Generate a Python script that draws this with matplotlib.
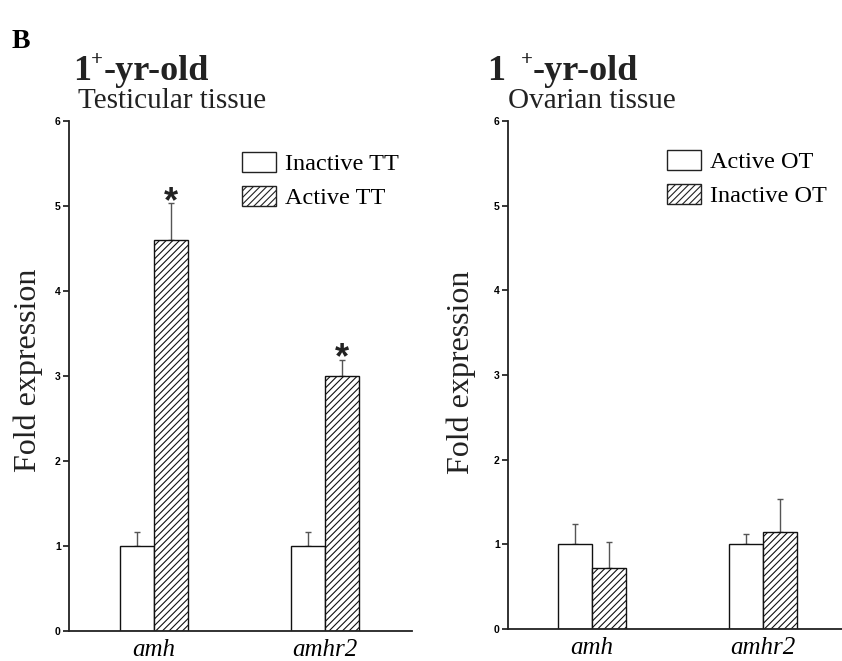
import matplotlib
matplotlib.use("Agg")
import matplotlib.pyplot as plt
from matplotlib.patches import Patch
import numpy as np

plt.rcParams['hatch.linewidth'] = 0.8

genes = ["amh", "amhr2"]
# Left panel: testicular tissue
tt_labels = ["Inactive TT", "Active TT"]
tt_inactive = [1.0, 1.0]
tt_inactive_err = [0.17, 0.17]
tt_active = [4.6, 3.0]
tt_active_err = [0.43, 0.19]
tt_signif = [True, True]
# Right panel: ovarian tissue
ot_labels = ["Active OT", "Inactive OT"]
ot_active = [1.0, 1.0]
ot_active_err = [0.24, 0.12]
ot_inactive = [0.72, 1.14]
ot_inactive_err = [0.31, 0.40]
ot_signif = [False, False]
yticks = [0, 1, 2, 3, 4, 5, 6]

W, H = 842, 661
fig = plt.figure(figsize=(W / 100, H / 100), dpi=100)

def fx(px):
    return px / W

def fy(py):
    return 1 - py / H

serif = "Liberation Serif"
sans = "Liberation Sans"

def make_panel(rect, xlim, s1, e1, s2, e2, labels, signif, leg_anchor, lab_xy):
    ax = fig.add_axes(rect)
    x = np.arange(len(genes))
    w = 0.2
    ax.bar(x - w / 2, s1, width=w, color="white", edgecolor="#111111", linewidth=1.0, zorder=2)
    ax.bar(x + w / 2, s2, width=w, color="white", edgecolor="#111111", linewidth=1.0,
           hatch="/////", zorder=2)
    ax.errorbar(x - w / 2, s1, yerr=[np.zeros(len(e1)), e1], fmt="none", ecolor="#555555",
                elinewidth=1.0, capsize=2.5, capthick=1.0, zorder=1)
    ax.errorbar(x + w / 2, s2, yerr=[np.zeros(len(e2)), e2], fmt="none", ecolor="#555555",
                elinewidth=1.0, capsize=2.5, capthick=1.0, zorder=1)
    for i, sg in enumerate(signif):
        if sg:
            ax.annotate("*", xy=(x[i] + w / 2, s2[i] + e2[i]), xytext=(0, -6),
                        textcoords="offset points", ha="center", va="baseline",
                        fontsize=26, fontweight="bold", family=sans, color="#222222")
    ax.set_xlim(*xlim)
    ax.set_ylim(0, 6)
    ax.set_yticks(yticks)
    ax.set_yticklabels([str(t) for t in yticks], fontsize=7.5, fontweight="bold", family=sans)
    ax.set_xticks(x)
    ax.set_xticklabels(genes, fontsize=18, style="italic", family=serif)
    ax.tick_params(axis="x", length=0, pad=6)
    ax.tick_params(axis="y", length=4, width=1.1, direction="out", pad=2)
    for s in ["top", "right"]:
        ax.spines[s].set_visible(False)
    for s in ["left", "bottom"]:
        ax.spines[s].set_linewidth(1.3)
        ax.spines[s].set_color("#222222")
    ax.set_ylabel("Fold expression", fontsize=23, family=serif, color="#222222")
    ax.yaxis.set_label_coords(*lab_xy)
    handles = [Patch(facecolor="white", edgecolor="#222222", linewidth=1.0),
               Patch(facecolor="white", edgecolor="#222222", linewidth=1.0, hatch="/////")]
    ax.legend(handles, labels, loc="upper left", bbox_to_anchor=leg_anchor,
              bbox_transform=fig.transFigure, frameon=False, borderpad=0, borderaxespad=0,
              prop={"family": serif, "size": 17.5}, handlelength=1.4, handleheight=0.9,
              handletextpad=0.35, labelspacing=0.42)
    return ax

axL = make_panel([fx(69), fy(631), fx(412 - 69), (631 - 121) / H], (-0.497, 1.51),
                 tt_inactive, tt_inactive_err, tt_active, tt_active_err, tt_labels, tt_signif,
                 (fx(242), fy(152)), (-0.075, 0.512))
axR = make_panel([fx(508), fy(629), fx(842 - 508), (629 - 121) / H], (-0.49, 1.46),
                 ot_active, ot_active_err, ot_inactive, ot_inactive_err, ot_labels, ot_signif,
                 (fx(667), fy(150)), (-0.095, 0.505))

# Panel letter
fig.text(fx(12), fy(48), "B", fontsize=20, fontweight="bold", family=serif, va="baseline")

# Titles
def title(x1, xplus, xrest, sub_x, sub):
    fig.text(fx(x1), fy(80), "1", fontsize=26, fontweight="bold", family=serif, va="baseline",
             color="#222222")
    fig.text(fx(xplus), fy(65), "+", fontsize=15, fontweight="bold", family=serif, va="baseline",
             color="#222222")
    fig.text(fx(xrest), fy(80), "-yr-old", fontsize=26, fontweight="bold", family=serif,
             va="baseline", color="#222222")
    fig.text(fx(sub_x), fy(108), sub, fontsize=21, family=serif, va="baseline", color="#222222")

title(73, 91, 104, 78, "Testicular tissue")
title(487, 521, 533, 508, "Ovarian tissue")

fig.savefig("out.png", dpi=100)
